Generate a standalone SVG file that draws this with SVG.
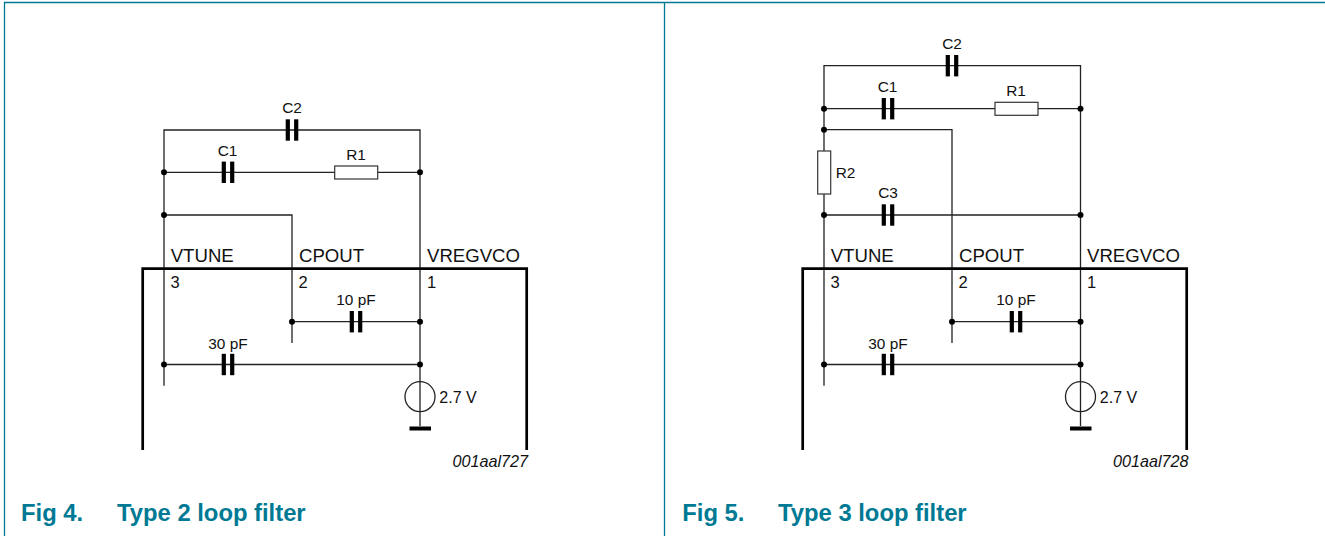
<svg xmlns="http://www.w3.org/2000/svg" width="1325" height="536" viewBox="0 0 1325 536">
<style>
text{font-family:"Liberation Sans",Arial,sans-serif;fill:#111}
.l{font-size:15.400px}.m{text-anchor:middle}
.v{font-size:16px}
.p{font-size:18.6px}
.n{font-size:16.500px}
.id{font-size:16.200px;font-style:italic;text-anchor:end}
.cap{font-size:23.800px;font-weight:bold;fill:#007a94}
.w{fill:none;stroke:#222;stroke-width:1.3}
.chip{fill:none;stroke:#000;stroke-width:2.7}
.frame{fill:none;stroke:#007a94;stroke-width:1.3}
.plate{fill:#000}
.r{fill:#fff;stroke:#333;stroke-width:1.2}
.d{fill:#000}
</style>
<defs>
<g id="cap"><rect class="plate" x="-6.300" y="-10.700" width="4.200" height="21.400"/><rect class="plate" x="2.100" y="-10.700" width="4.200" height="21.400"/></g>
<circle id="dot" class="d" r="3"/>
</defs>
<g id="frame"><path class="frame" d="M4.500 536V2.500H1325M664.500 2.500V536"/></g>
<g id="connectors-fig4">
<path class="w" d="M164 385.700V130H420V364.500M164 172.300H420M164 215H292V343M292 321.700H420M164 364.500H420M420 364.500V426"/>
</g>
<g id="connectors-fig5">
<path class="w" d="M824 385.700V65.700H1080.500V364.500M824 108.700H1080.500M824 129.700H952V343M824 215H1080.500M952 321.700H1080.500M824 364.500H1080.500M1080.500 364.500V426"/>
</g>
<g id="fig4">
<g id="chip4"><path class="chip" d="M142.700 450V268.700H526.700V450"/>
<text class="p" x="170.700" y="261.700">VTUNE</text><text class="p" x="299" y="261.700">CPOUT</text><text class="p" x="427" y="261.700">VREGVCO</text>
<text class="n" x="170.500" y="288">3</text><text class="n" x="298.500" y="288">2</text><text class="n" x="427" y="288">1</text></g>
<g id="c2-4"><use href="#cap" x="292" y="130"/><text class="l m" x="292" y="113.300">C2</text></g>
<g id="c1-4"><use href="#cap" x="228" y="172.300"/><text class="l m" x="227.500" y="155.700">C1</text></g>
<g id="r1-4"><rect class="r" x="334.700" y="166" width="43" height="13"/><text class="l m" x="356" y="160">R1</text></g>
<g id="c10-4"><use href="#cap" x="356" y="321.700"/><text class="l m" x="356" y="305">10 pF</text></g>
<g id="c30-4"><use href="#cap" x="228" y="364.500"/><text class="l m" x="228" y="348.700">30 pF</text></g>
<g id="v-4"><circle class="w" cx="420" cy="396.700" r="15"/><rect class="plate" x="409.500" y="426.500" width="21.500" height="4"/><text class="v" x="439.300" y="402.700">2.7 V</text></g>
<g id="dots4"><use href="#dot" x="164" y="172.300"/><use href="#dot" x="420" y="172.300"/><use href="#dot" x="164" y="215"/><use href="#dot" x="292" y="321.700"/><use href="#dot" x="420" y="321.700"/><use href="#dot" x="164" y="364.500"/><use href="#dot" x="420" y="364.500"/></g>
<text class="id" x="528" y="466.700">001aal727</text>
<text class="cap" x="21" y="520.700">Fig 4.</text><text class="cap" x="117" y="520.700">Type 2 loop filter</text>
</g>
<g id="fig5">
<g id="chip5"><path class="chip" d="M802.700 450V268.700H1186.700V450"/>
<text class="p" x="830.700" y="261.700">VTUNE</text><text class="p" x="959" y="261.700">CPOUT</text><text class="p" x="1087" y="261.700">VREGVCO</text>
<text class="n" x="830.500" y="288">3</text><text class="n" x="958.500" y="288">2</text><text class="n" x="1087" y="288">1</text></g>
<g id="c2-5"><use href="#cap" x="952" y="65.700"/><text class="l m" x="952" y="49">C2</text></g>
<g id="c1-5"><use href="#cap" x="888" y="108.700"/><text class="l m" x="887.500" y="92">C1</text></g>
<g id="r1-5"><rect class="r" x="995" y="102.300" width="43" height="13"/><text class="l m" x="1016" y="96.300">R1</text></g>
<g id="r2-5"><rect class="r" x="817.700" y="151" width="13" height="43"/><text class="l" x="835.700" y="178.300">R2</text></g>
<g id="c3-5"><use href="#cap" x="888" y="215"/><text class="l m" x="888" y="198.300">C3</text></g>
<g id="c10-5"><use href="#cap" x="1016" y="321.700"/><text class="l m" x="1016" y="305">10 pF</text></g>
<g id="c30-5"><use href="#cap" x="888" y="364.500"/><text class="l m" x="888" y="348.700">30 pF</text></g>
<g id="v-5"><circle class="w" cx="1080.500" cy="396.700" r="15"/><rect class="plate" x="1070" y="426.500" width="21.500" height="4"/><text class="v" x="1099.800" y="402.700">2.7 V</text></g>
<g id="dots5"><use href="#dot" x="824" y="108.700"/><use href="#dot" x="1080.500" y="108.700"/><use href="#dot" x="824" y="129.700"/><use href="#dot" x="824" y="215"/><use href="#dot" x="1080.500" y="215"/><use href="#dot" x="952" y="321.700"/><use href="#dot" x="1080.500" y="321.700"/><use href="#dot" x="824" y="364.500"/><use href="#dot" x="1080.500" y="364.500"/></g>
<text class="id" x="1188.500" y="466.700">001aal728</text>
<text class="cap" x="682.300" y="520.700">Fig 5.</text><text class="cap" x="778" y="520.700">Type 3 loop filter</text>
</g>
</svg>
